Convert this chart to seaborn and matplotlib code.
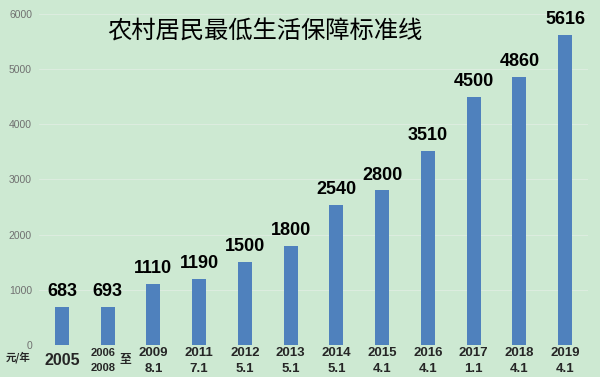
import matplotlib
matplotlib.use('Agg')
import matplotlib.pyplot as plt
import seaborn as sns
import pandas as pd

years = ['2005', '2006-2008', '2009', '2011', '2012', '2013', '2014', '2015', '2016', '2017', '2018', '2019']
dates = ['', '', '8.1', '7.1', '5.1', '5.1', '5.1', '4.1', '4.1', '1.1', '4.1', '4.1']
values = [683, 693, 1110, 1190, 1500, 1800, 2540, 2800, 3510, 4500, 4860, 5616]

bg = '#cde9d2'
sns.set_style('white')
plt.rcParams['font.family'] = ['Liberation Sans', 'Noto Sans CJK SC', 'DejaVu Sans']

data = pd.DataFrame({'year': years, 'value': values})

fig = plt.figure(figsize=(6, 3.77), dpi=100, facecolor=bg)
ax = fig.add_axes([0.065, 0.085, 0.915, 0.878])
ax.set_facecolor(bg)
sns.barplot(x='year', y='value', data=data, color='#4f81bd', width=0.31,
            saturation=1, linewidth=0, ax=ax)

ax.set_ylim(0, 6000)
ax.set_yticks(range(0, 6001, 1000))
ax.tick_params(axis='y', labelsize=7.5, colors='#707070', length=0, pad=5)
ax.yaxis.grid(True, color='#dcecdf', linewidth=0.8)
ax.set_axisbelow(True)
for s in ax.spines.values():
    s.set_visible(False)
ax.set_xlabel('')
ax.set_ylabel('')

for i, v in enumerate(values):
    ax.annotate(str(v), (i, v), xytext=(0, 5), textcoords='offset points',
                ha='center', va='bottom', fontsize=13, fontweight='bold',
                color='black')

# x tick labels drawn as text below the axis
ax.set_xticks(range(len(years)))
ax.set_xticklabels([])
ax.tick_params(axis='x', length=0)
trans = ax.get_xaxis_transform()
for i, (y, d) in enumerate(zip(years, dates)):
    if i == 0:
        ax.annotate(y, (i, 0), xycoords=trans, xytext=(0, -11),
                    textcoords='offset points', ha='center', va='center',
                    fontsize=11.5, fontweight='bold')
    elif i == 1:
        ax.annotate('2006', (i, 0), xycoords=trans, xytext=(-3, -6),
                    textcoords='offset points', ha='center', va='center',
                    fontsize=8, fontweight='bold')
        ax.annotate('2008', (i, 0), xycoords=trans, xytext=(-3, -16.5),
                    textcoords='offset points', ha='center', va='center',
                    fontsize=8, fontweight='bold')
        ax.annotate('至', (i, 0), xycoords=trans, xytext=(13, -11),
                    textcoords='offset points', ha='center', va='center',
                    fontsize=8.5, fontweight='bold')
    else:
        ax.annotate(y, (i, 0), xycoords=trans, xytext=(0, -6),
                    textcoords='offset points', ha='center', va='center',
                    fontsize=9.5, fontweight='bold')
        ax.annotate(d, (i, 0), xycoords=trans, xytext=(0, -17.5),
                    textcoords='offset points', ha='center', va='center',
                    fontsize=9.5, fontweight='bold')

fig.text(0.03, 0.052, '元/年', ha='center', va='center', fontsize=7.5,
         fontweight='bold', family=['Noto Sans CJK SC', 'DejaVu Sans'])
fig.text(0.442, 0.915, '农村居民最低生活保障标准线', ha='center', va='center',
         fontsize=17.5, color='black', family=['Noto Sans CJK SC', 'DejaVu Sans'])

plt.savefig('out.png', dpi=100, facecolor=bg)
plt.close()
